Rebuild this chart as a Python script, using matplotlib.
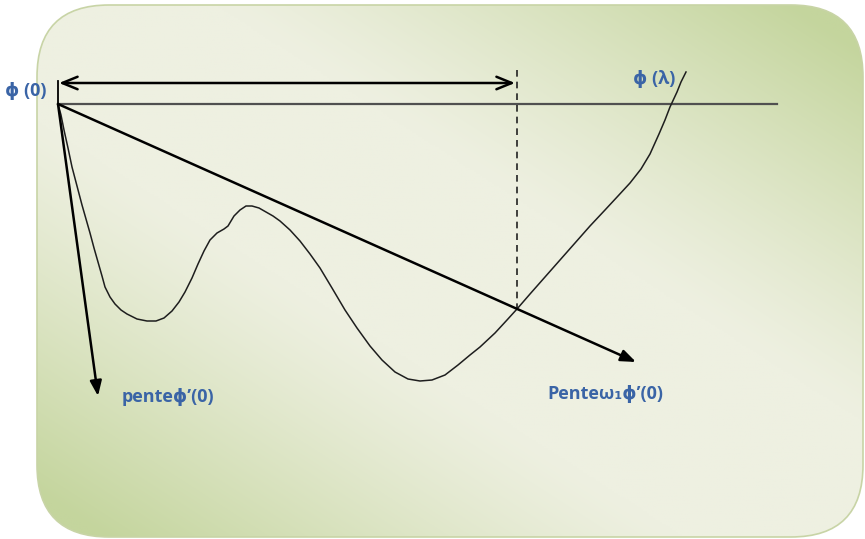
import numpy as np
import matplotlib
matplotlib.use("Agg")
import matplotlib.pyplot as plt
from matplotlib.patches import FancyBboxPatch

# Line search sketch: phi(lambda) against the slope lines from phi(0)
# curve phi(lambda), sampled by hand (x, y in drawing units, y pointing down)
curve_x = [58, 61, 64, 68, 72, 77, 82, 86, 90, 94, 98, 102, 105, 110, 115, 121, 127, 137,
           147, 156, 164, 172, 179, 185, 192, 198, 204, 210, 217, 224, 228, 234, 240, 246,
           252, 259, 266, 273, 280, 290, 300, 310, 320, 332, 345, 357, 370, 382, 395, 408,
           420, 432, 445, 458, 470, 480, 495, 507, 517, 530, 545, 560, 575, 590, 605, 618,
           630, 641, 650, 659, 665, 670, 677, 681, 686]
curve_y = [104, 115, 130, 148, 167, 186, 205, 219, 233, 248, 262, 276, 287, 297, 304, 310, 314, 319,
           321, 321, 318, 311, 302, 292, 278, 264, 251, 240, 233, 229, 226, 216, 210, 206,
           206, 208, 212, 216, 221, 230, 241, 254, 268, 288, 310, 328, 346, 360, 372, 379,
           381, 380, 375, 365, 355, 347, 333, 320, 309, 294, 277, 260, 243, 226, 210, 196,
           183, 169, 154, 134, 120, 107, 92, 82, 72]

origin = (58, 104)
slope_tip = (98, 396)          # pente phi'(0)
relaxed_tip = (636, 362)       # pente omega1 phi'(0)
step_end = 517                 # accepted step (dashed marker)
level_end = 777                # horizontal level phi(0)
arrow_y = 83                   # double arrow over the accepted interval

labels = ["\u03d5 (0)", "\u03d5 (\u03bb)", "pente\u03d5\u2019(0)", "Pente\u03c9\u2081\u03d5\u2019(0)"]
label_pos = [(5, 91), (633, 79), (122, 397), (547, 394)]

W, H = 865, 539
fig = plt.figure(figsize=(W / 100, H / 100), dpi=100)
ax = fig.add_axes([0, 0, 1, 1])
ax.set_xlim(0, W)
ax.set_ylim(H, 0)
ax.axis("off")

# rounded panel with a two-sided diagonal green gradient
x0, y0, bw, bh = 37, 5, 826, 532
panel = FancyBboxPatch((x0, y0), bw, bh, boxstyle="round,pad=0,rounding_size=72",
                       fc="none", ec="#c8d4a6", lw=1.2, zorder=2)
ax.add_patch(panel)
gx, gy = np.meshgrid(np.linspace(x0, x0 + bw, 400), np.linspace(y0, y0 + bh, 260))
u = (gx - x0) / bw - (gy - y0) / bh
k = np.clip((np.abs(u) - 0.22) / 0.7, 0, 1) ** 1.2
pale = np.array([238, 240, 225]) / 255
green = np.array([196, 213, 157]) / 255
img = pale + k[..., None] * (green - pale)
bg = ax.imshow(img, extent=(x0, x0 + bw, y0 + bh, y0), aspect="auto", zorder=1,
               interpolation="bilinear")
bg.set_clip_path(panel)

# reference lines
ax.plot([origin[0], level_end], [origin[1], origin[1]], color="#505050", lw=1.6, zorder=3)
ax.plot([origin[0], origin[0]], [arrow_y - 2, origin[1]], color="black", lw=1.3, zorder=3)
ax.plot([step_end, step_end], [70, 309], color="#222222", lw=1.2, ls=(0, (4, 3)), zorder=3)

ax.annotate("", xy=(step_end - 2, arrow_y), xytext=(origin[0] + 1, arrow_y),
            arrowprops=dict(arrowstyle="<->,head_length=1.1,head_width=0.45",
                            color="black", lw=1.8, shrinkA=0, shrinkB=0), zorder=4)
for tip in (slope_tip, relaxed_tip):
    ax.annotate("", xy=tip, xytext=origin,
                arrowprops=dict(arrowstyle="-|>,head_length=0.9,head_width=0.35",
                                color="black", fc="black", lw=1.8, shrinkA=0, shrinkB=0),
                zorder=4)

ax.plot(curve_x, curve_y, color="#1e1e1e", lw=1.1, zorder=3)

for txt, (tx, ty) in zip(labels, label_pos):
    ax.text(tx, ty, txt, color="#3a64a6", fontsize=13, fontweight="bold",
            family=["Open Sans", "DejaVu Sans"], ha="left", va="center", zorder=5)

fig.savefig("out.png", dpi=100, facecolor="white")
